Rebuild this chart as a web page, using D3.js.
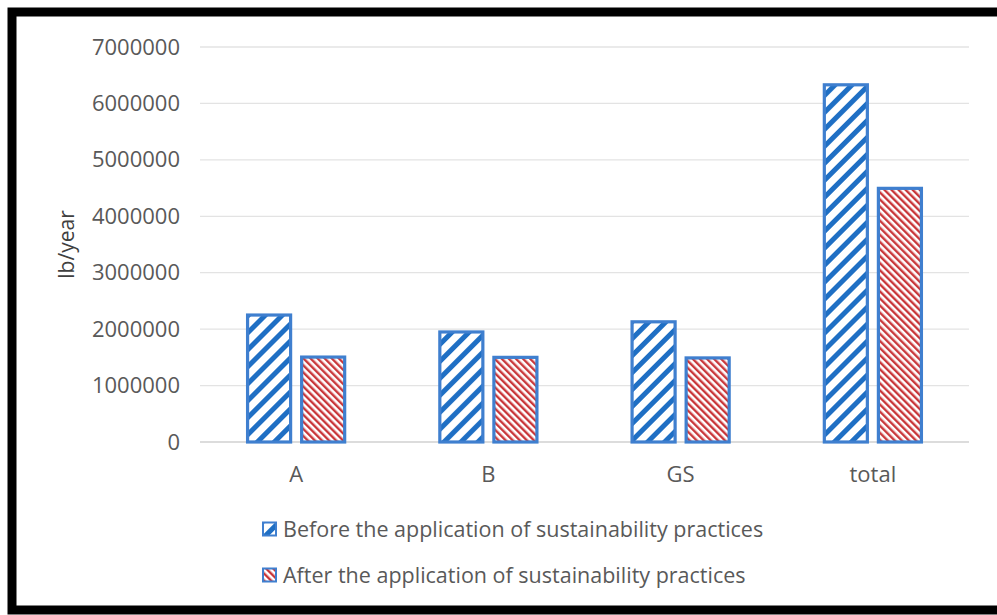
<!DOCTYPE html>
<html>
<head>
<meta charset="utf-8">
<script src="https://cdn.jsdelivr.net/npm/d3@7"></script>
<style>
  html, body { margin: 0; padding: 0; background: #fff; }
  svg { display: block; }
  text { font-family: "Open Sans", "Liberation Sans", sans-serif; fill: #595959; }
</style>
</head>
<body>
<svg id="chart" width="997" height="615"></svg>
<script>
// Pollutant load per area, lb/year
const categories = ["A", "B", "GS", "total"];
const beforeValues = [2250000, 1950000, 2130000, 6330000];
const afterValues = [1505000, 1500000, 1490000, 4495000];
const yTicks = [0, 1000000, 2000000, 3000000, 4000000, 5000000, 6000000, 7000000];
const seriesNames = [
  "Before the application of sustainability practices",
  "After the application of sustainability practices"
];

const svg = d3.select("#chart");
const W = 997, H = 615;
const FONT = '"Open Sans", "Liberation Sans", sans-serif';

// page background and thick black frame
svg.append("rect").attr("x", 0).attr("y", 0).attr("width", W).attr("height", H).attr("fill", "#fff");
svg.append("rect").attr("x", 12).attr("y", 12).attr("width", W + 20).attr("height", H - 17)
  .attr("fill", "none").attr("stroke", "#000").attr("stroke-width", 9);

// hatch patterns
const defs = svg.append("defs");
const pBefore = defs.append("pattern").attr("id", "hatchBefore")
  .attr("patternUnits", "userSpaceOnUse").attr("width", 12).attr("height", 12)
  .attr("patternTransform", "rotate(45)");
pBefore.append("rect").attr("width", 12).attr("height", 12).attr("fill", "#fff");
pBefore.append("rect").attr("x", 0).attr("width", 5).attr("height", 12).attr("fill", "#1f6fc4");

const pAfter = defs.append("pattern").attr("id", "hatchAfter")
  .attr("patternUnits", "userSpaceOnUse").attr("width", 5).attr("height", 5)
  .attr("patternTransform", "rotate(-45)");
pAfter.append("rect").attr("width", 5).attr("height", 5).attr("fill", "#fff");
pAfter.append("rect").attr("x", 0).attr("width", 2.4).attr("height", 5).attr("fill", "#c9373a");

const margin = { left: 200, right: 28, top: 47, bottom: 173 };
const x = d3.scaleBand().domain(categories).range([margin.left, W - margin.right]).padding(0);
const y = d3.scaleLinear().domain([0, 7000000]).range([H - margin.bottom, margin.top]);

// gridlines
svg.append("g").selectAll("line").data(yTicks).join("line")
  .attr("x1", margin.left).attr("x2", W - margin.right)
  .attr("y1", d => y(d)).attr("y2", d => y(d))
  .attr("stroke", d => d === 0 ? "#d0d0d0" : "#e3e3e3").attr("stroke-width", 1.3);

// y axis labels
const yAxis = d3.axisLeft(y).tickValues(yTicks).tickFormat(d3.format("d")).tickSize(0).tickPadding(20);
const gy = svg.append("g").attr("transform", `translate(${margin.left},0)`).call(yAxis);
gy.select(".domain").remove();
gy.selectAll("text").attr("font-size", 22).style("fill", "#595959").style("font-family", FONT);

// x axis labels
const xAxis = d3.axisBottom(x).tickSize(0).tickPadding(24);
const gx = svg.append("g").attr("transform", `translate(0,${y(0)})`).call(xAxis);
gx.select(".domain").remove();
gx.selectAll("text").attr("font-size", 22).style("fill", "#595959").style("font-family", FONT);

// y title
svg.append("text").attr("transform", `translate(74,${(y(0) + y(7000000)) / 2}) rotate(-90)`)
  .attr("text-anchor", "middle").attr("font-size", 21).style("fill", "#404040").text("lb/year");

// bars
const sub = d3.scaleBand().domain([0, 1]).range([0, x.bandwidth()]).paddingInner(0.204).paddingOuter(0.88);
const series = [
  { values: beforeValues, fill: "url(#hatchBefore)" },
  { values: afterValues, fill: "url(#hatchAfter)" }
];
series.forEach((s, i) => {
  svg.append("g").selectAll("rect").data(categories).join("rect")
    .attr("x", c => x(c) + sub(i))
    .attr("width", sub.bandwidth())
    .attr("y", (c, k) => y(s.values[k]))
    .attr("height", (c, k) => y(0) - y(s.values[k]))
    .attr("fill", s.fill)
    .attr("stroke", "#3f7fcf").attr("stroke-width", 3.2);
});

// legend
const legend = svg.append("g");
seriesNames.forEach((name, i) => {
  const ly = 529 + i * 46;
  legend.append("rect").attr("x", 263).attr("y", ly - 6.5).attr("width", 13).attr("height", 13)
    .attr("fill", series[i].fill).attr("stroke", "#3f7fcf").attr("stroke-width", 2);
  legend.append("text").attr("x", 283).attr("y", ly).attr("dy", "0.35em")
    .attr("font-size", 21.5).text(name);
});
</script>
</body>
</html>
